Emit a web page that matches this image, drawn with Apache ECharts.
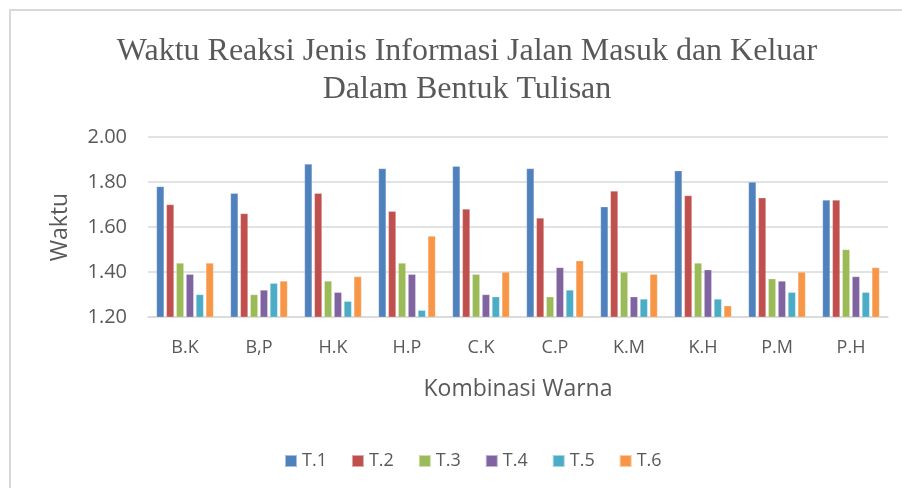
<!DOCTYPE html>
<html><head><meta charset="utf-8">
<script src="https://cdn.jsdelivr.net/npm/echarts@6/dist/echarts.min.js"></script>
<style>html,body{margin:0;padding:0;background:#fff}#c{width:902px;height:488px}</style>
</head><body><div id="c"></div>
<script>
var categories = ['B.K','B,P','H.K','H.P','C.K','C.P','K.M','K.H','P.M','P.H'];
var seriesNames = ['T.1','T.2','T.3','T.4','T.5','T.6'];
var t1 = [1.78,1.75,1.88,1.86,1.87,1.86,1.69,1.85,1.80,1.72];
var t2 = [1.70,1.66,1.75,1.67,1.68,1.64,1.76,1.74,1.73,1.72];
var t3 = [1.44,1.30,1.36,1.44,1.39,1.29,1.40,1.44,1.37,1.50];
var t4 = [1.39,1.32,1.31,1.39,1.30,1.42,1.29,1.41,1.36,1.38];
var t5 = [1.30,1.35,1.27,1.23,1.29,1.32,1.28,1.28,1.31,1.31];
var t6 = [1.44,1.36,1.38,1.56,1.40,1.45,1.39,1.25,1.40,1.42];
var colors = ['#4F81BD','#C0504D','#9BBB59','#8064A2','#4BACC6','#F79646'];
var data = [t1,t2,t3,t4,t5,t6];
var chart = echarts.init(document.getElementById('c'));
var sans = '"Open Sans", "Liberation Sans", sans-serif';
chart.setOption({
  animation:false,
  color: colors,
  graphic:[{type:'rect',silent:true,shape:{x:10,y:10,width:930,height:500},style:{fill:'none',stroke:'#d9d9d9',lineWidth:2}}],
  title:{
    text:'Waktu Reaksi Jenis Informasi Jalan Masuk dan Keluar\nDalam Bentuk Tulisan',
    left:462, top:28, textAlign:'center',
    textStyle:{fontFamily:'"Liberation Serif", "Times New Roman", serif',fontSize:32,fontWeight:'normal',color:'#595959',lineHeight:38}
  },
  legend:{
    data:seriesNames, bottom:13, left:279, itemWidth:12, itemHeight:12, itemGap:24, icon:'rect',
    textStyle:{fontFamily:sans,fontSize:18,color:'#595959'}
  },
  grid:{left:148,right:14,top:137,bottom:171},
  xAxis:{
    type:'category', data:categories,
    name:'Kombinasi Warna', nameLocation:'middle', nameGap:61,
    nameTextStyle:{fontFamily:sans,fontSize:23,color:'#595959'},
    axisLine:{lineStyle:{color:'#d9d9d9',width:1.5}},
    axisTick:{show:false},
    axisLabel:{fontFamily:sans,fontSize:18,color:'#595959',margin:22}
  },
  yAxis:{
    type:'value', min:1.2, max:2.0, interval:0.2,
    name:'Waktu', nameLocation:'middle', nameGap:76,
    nameTextStyle:{fontFamily:sans,fontSize:23,color:'#595959'},
    axisLine:{show:false}, axisTick:{show:false},
    splitLine:{lineStyle:{color:'#d9d9d9',width:1.5}},
    axisLabel:{fontFamily:sans,fontSize:20,color:'#595959',margin:21,formatter:function(v){return v.toFixed(2);}}
  },
  series: seriesNames.map(function(n,i){
    return {name:n,type:'bar',data:data[i],barWidth:7.6,barGap:'30%',
      itemStyle:{color:colors[i],borderColor:'rgba(255,255,255,0.5)',borderWidth:0.5}};
  })
});
</script></body></html>
